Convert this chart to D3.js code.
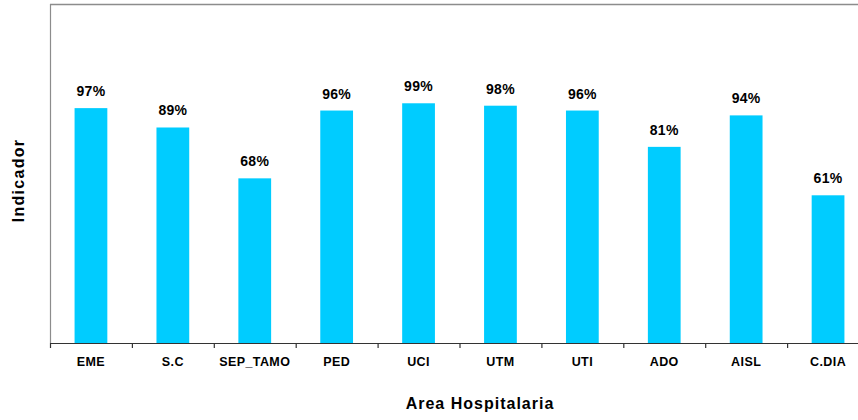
<!DOCTYPE html>
<html><head><meta charset="utf-8">
<script src="https://cdn.jsdelivr.net/npm/d3@7"></script>
<style>body{margin:0;background:#fff}svg{display:block}text{font-family:"Liberation Sans",Arial,sans-serif;font-weight:bold;fill:#000}</style>
</head><body><svg id="c" width="858" height="420"></svg>
<script>
const categories = ["EME","S.C","SEP_TAMO","PED","UCI","UTM","UTI","ADO","AISL","C.DIA"];
const values = [0.97,0.89,0.68,0.96,0.99,0.98,0.96,0.81,0.94,0.61];
const yMax = 1.4;
const xTitle = "Area Hospitalaria";
const yTitle = "Indicador";

const svg = d3.select("#c");
const L = 50, R = 869, T = 4, B = 343;
const x = d3.scaleBand().domain(categories).range([L, R]).paddingInner(0.6).paddingOuter(0.3);
const xb = d3.scaleBand().domain(categories).range([L, R]);
const y = d3.scaleLinear().domain([0, yMax]).range([B, T]);

svg.append("line").attr("x1", L).attr("x2", 858).attr("y1", T + 0.5).attr("y2", T + 0.5)
  .attr("stroke", "#8c8c8c").attr("stroke-width", 1.5);
svg.append("line").attr("x1", L + 0.5).attr("x2", L + 0.5).attr("y1", T).attr("y2", B)
  .attr("stroke", "#8c8c8c").attr("stroke-width", 1.2);

svg.selectAll("rect.bar").data(categories).join("rect").attr("class", "bar")
  .attr("x", d => x(d)).attr("width", x.bandwidth())
  .attr("y", (d, i) => y(values[i])).attr("height", (d, i) => B - y(values[i]))
  .attr("fill", "#00CCFF");

svg.selectAll("text.val").data(categories).join("text").attr("class", "val")
  .attr("x", d => x(d) + x.bandwidth() / 2)
  .attr("y", (d, i) => y(values[i]) - 12)
  .attr("text-anchor", "middle").style("font-size", "14px").style("letter-spacing", "0.3px")
  .text((d, i) => Math.round(values[i] * 100) + "%");

const ax = svg.append("g");
ax.append("line").attr("x1", L).attr("x2", 858).attr("y1", B + 0.5).attr("y2", B + 0.5)
  .attr("stroke", "#333").attr("stroke-width", 1.2);
ax.selectAll("line.tick").data(categories.concat(["end"])).join("line").attr("class", "tick")
  .attr("x1", (d, i) => L + i * xb.bandwidth() + 0.5).attr("x2", (d, i) => L + i * xb.bandwidth() + 0.5)
  .attr("y1", B).attr("y2", B + 5).attr("stroke", "#333").attr("stroke-width", 1.2);
ax.selectAll("text.cat").data(categories).join("text").attr("class", "cat")
  .attr("x", d => xb(d) + xb.bandwidth() / 2).attr("y", 366)
  .attr("text-anchor", "middle").style("font-size", "12.5px").style("letter-spacing", "0.4px")
  .text(d => d);

svg.append("text").attr("x", 480).attr("y", 409).attr("text-anchor", "middle")
  .style("font-size", "16px").style("letter-spacing", "1px").text(xTitle);
svg.append("text").attr("transform", "translate(24,180.5) rotate(-90)").attr("text-anchor", "middle")
  .style("font-size", "16px").style("letter-spacing", "1.3px").text(yTitle);
</script></body></html>
